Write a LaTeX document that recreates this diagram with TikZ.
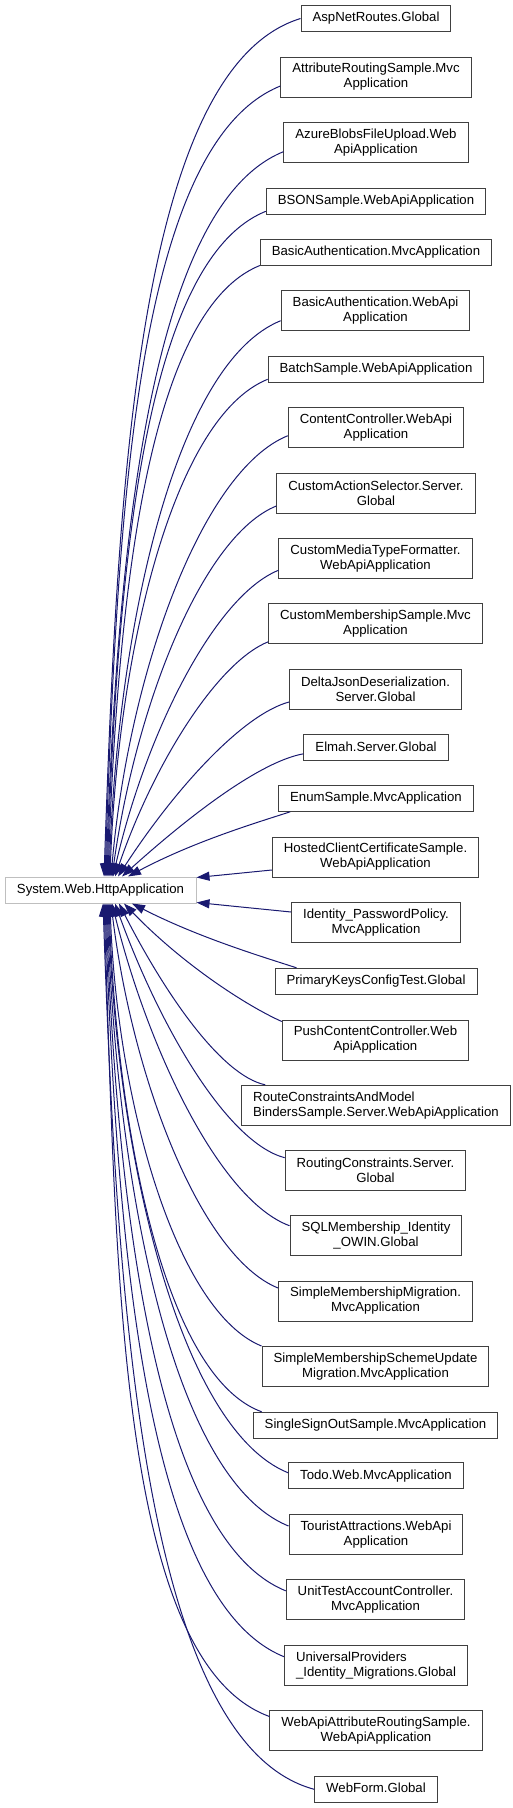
\documentclass[tikz,border=0pt]{standalone}
\usepackage{fontspec}
\setmainfont{Liberation Sans}
\usetikzlibrary{arrows.meta}
\definecolor{edgeblue}{HTML}{191970}
\definecolor{boxgray}{HTML}{404040}
\definecolor{basegray}{HTML}{BFBFBF}

\begin{document}
\begin{tikzpicture}[x=1pt, y=1pt,
  cls/.style={draw=boxgray, line width=1pt, fill=white, inner xsep=11.5pt, inner ysep=0pt,
    minimum height=26pt, text height=9.6pt, text depth=2.8pt, font=\fontsize{13.2}{15}\selectfont},
  cls2/.style={draw=boxgray, line width=1pt, fill=white, inner xsep=11.5pt, inner ysep=0pt,
    minimum height=40pt, align=center, font=\fontsize{13.2}{15}\selectfont},
  inherit/.style={draw=edgeblue, line width=1pt, -{Triangle[length=13pt,width=9pt]},
    out looseness=0.5, in looseness=1.1}]
\useasboundingbox (0,0) rectangle (513,-1808);

% Base class
\node[cls, draw=basegray, minimum width=191pt] (base) at (100.5,-890) {System.Web.HttpApplication};

% Derived classes
\node[cls] (aspnet) at (376,-18.5) {AspNetRoutes.Global};
\node[cls2] (attrroute) at (376,-77) {AttributeRoutingSample.Mvc\\Application};
\node[cls2] (azure) at (376,-142.7) {AzureBlobsFileUpload.Web\\ApiApplication};
\node[cls] (bson) at (376,-201.3) {BSONSample.WebApiApplication};
\node[cls] (basicmvc) at (376,-252) {BasicAuthentication.MvcApplication};
\node[cls2] (basicapi) at (375.5,-310.7) {BasicAuthentication.WebApi\\Application};
\node[cls] (batch) at (376,-369.3) {BatchSample.WebApiApplication};
\node[cls2] (content) at (376,-427.7) {ContentController.WebApi\\Application};
\node[cls2] (actionsel) at (376,-493) {CustomActionSelector.Server.\\Global};
\node[cls2] (mediatype) at (375.5,-558.3) {CustomMediaTypeFormatter.\\WebApiApplication};
\node[cls2] (custmember) at (375.5,-623.8) {CustomMembershipSample.Mvc\\Application};
\node[cls2] (deltajson) at (375.5,-689) {DeltaJsonDeserialization.\\Server.Global};
\node[cls] (elmah) at (376,-747.8) {Elmah.Server.Global};
\node[cls] (enum) at (376,-798.3) {EnumSample.MvcApplication};
\node[cls2] (hosted) at (375.5,-857) {HostedClientCertificateSample.\\WebApiApplication};
\node[cls2] (identity) at (376,-922.5) {Identity\_PasswordPolicy.\\MvcApplication};
\node[cls] (primkeys) at (376,-981.3) {PrimaryKeysConfigTest.Global};
\node[cls2] (pushcont) at (375.5,-1040) {PushContentController.Web\\ApiApplication};
\node[cls2, align=left] (routecons) at (376,-1105.3) {RouteConstraintsAndModel\\BindersSample.Server.WebApiApplication};
\node[cls2] (routingcons) at (375.5,-1170.7) {RoutingConstraints.Server.\\Global};
\node[cls2] (sqlmember) at (376,-1235.7) {SQLMembership\_Identity\\\_OWIN.Global};
\node[cls2] (simplemig) at (375.5,-1301) {SimpleMembershipMigration.\\MvcApplication};
\node[cls2] (simplescheme) at (375.5,-1366.5) {SimpleMembershipSchemeUpdate\\Migration.MvcApplication};
\node[cls] (signout) at (375.5,-1425.3) {SingleSignOutSample.MvcApplication};
\node[cls] (todo) at (376,-1475.8) {Todo.Web.MvcApplication};
\node[cls2] (tourist) at (376,-1534.5) {TouristAttractions.WebApi\\Application};
\node[cls2] (unittest) at (375.5,-1599.8) {UnitTestAccountController.\\MvcApplication};
\node[cls2, align=left] (universal) at (376,-1665.2) {UniversalProviders\\\_Identity\_Migrations.Global};
\node[cls2] (webapiattr) at (376,-1730.5) {WebApiAttributeRoutingSample.\\WebApiApplication};
\node[cls] (webform) at (376,-1789.3) {WebForm.Global};

% Inheritance arrows, upper half
\draw[inherit] (aspnet.west) to[out=197, in=88] ([xshift=3.5pt]base.north);
\draw[inherit] ([yshift=-9pt]attrroute.west) to[out=202, in=88] ([xshift=4.5pt]base.north);
\draw[inherit] ([yshift=-9pt]azure.west) to[out=202, in=88] ([xshift=5.5pt]base.north);
\draw[inherit] ([yshift=-10pt]bson.west) to[out=202, in=88] ([xshift=6.5pt]base.north);
\draw[inherit] (basicmvc.south west) to[out=202, in=88] ([xshift=7.5pt]base.north);
\draw[inherit] ([yshift=-10pt]basicapi.west) to[out=202, in=88] ([xshift=8.5pt]base.north);
\draw[inherit] ([yshift=-10pt]batch.west) to[out=202, in=88] ([xshift=9.5pt]base.north);
\draw[inherit] ([yshift=-8pt]content.west) to[out=202, in=85] ([xshift=10.5pt]base.north);
\draw[inherit] ([yshift=-13pt]actionsel.west) to[out=202, in=82] ([xshift=11.5pt]base.north);
\draw[inherit] ([yshift=-12pt]mediatype.west) to[out=202, in=77] ([xshift=12.5pt]base.north);
\draw[inherit] ([yshift=-18pt]custmember.west) to[out=202, in=71] ([xshift=14.5pt]base.north);
\draw[inherit] ([yshift=-13pt]deltajson.west) to[out=195, in=57] ([xshift=17.5pt]base.north);
\draw[inherit] ([yshift=-6pt]elmah.west) to[out=190, in=42] ([xshift=21.5pt]base.north);
\draw[inherit] ([xshift=12pt]enum.south west) to[out=198, in=28] ([xshift=27.5pt]base.north);

% straight ones to the right side
\draw[inherit] ([yshift=-13pt]hosted.west) -- ([yshift=-1pt]base.north east);
\draw[inherit] ([yshift=10.5pt]identity.west) -- ([yshift=1pt]base.south east);

% Inheritance arrows, lower half
\draw[inherit] ([xshift=22pt]primkeys.north west) to[out=162, in=-27] ([xshift=31.5pt]base.south);
\draw[inherit] ([yshift=-2pt]pushcont.north west) to[out=156, in=-46] ([xshift=23.5pt]base.south);
\draw[inherit] ([xshift=24pt]routecons.north west) to[out=168, in=-63] ([xshift=18.5pt]base.south);
\draw[inherit] ([yshift=13pt]routingcons.west) to[out=165, in=-70] ([xshift=14.5pt]base.south);
\draw[inherit] ([yshift=10pt]sqlmember.west) to[out=160, in=-76] ([xshift=11.5pt]base.south);
\draw[inherit] ([yshift=13pt]simplemig.west) to[out=158, in=-83] ([xshift=10.5pt]base.south);
\draw[inherit] (simplescheme.north west) to[out=158, in=-88] ([xshift=9.5pt]base.south);
\draw[inherit] ([xshift=9pt]signout.north west) to[out=160, in=-88] ([xshift=8.5pt]base.south);
\draw[inherit] ([yshift=3pt]todo.west) to[out=158, in=-88] ([xshift=7.5pt]base.south);
\draw[inherit] ([yshift=8.5pt]tourist.west) to[out=158, in=-88] ([xshift=6.5pt]base.south);
\draw[inherit] ([yshift=9pt]unittest.west) to[out=158, in=-88] ([xshift=5.5pt]base.south);
\draw[inherit] ([yshift=8.5pt]universal.west) to[out=158, in=-88] ([xshift=4.5pt]base.south);
\draw[inherit] ([yshift=14pt]webapiattr.west) to[out=160, in=-88] ([xshift=3.5pt]base.south);
\draw[inherit] (webform.west) to[out=165, in=-88] ([xshift=2.5pt]base.south);
\end{tikzpicture}
\end{document}
